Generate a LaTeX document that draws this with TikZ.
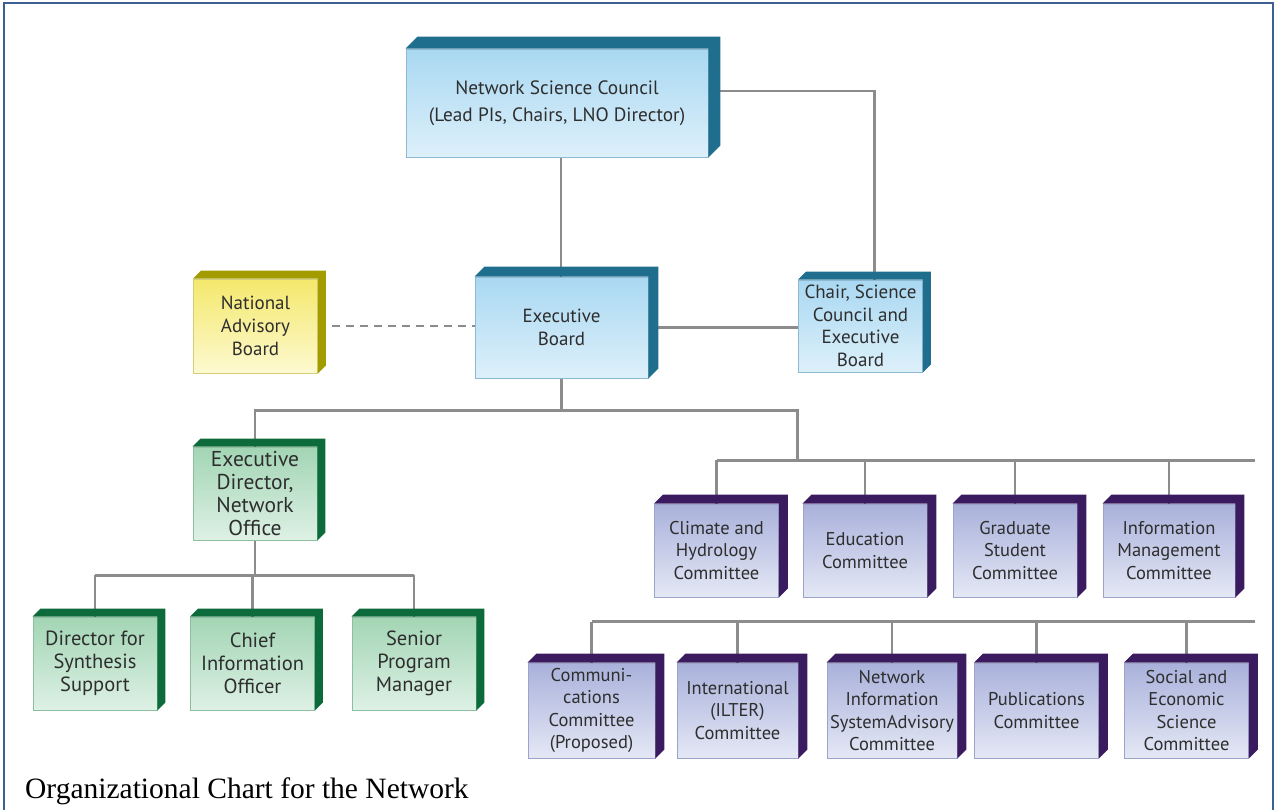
\documentclass[tikz,border=0pt]{standalone}
\usepackage{fontspec}
\setmainfont{PT Sans}
\newfontfamily\capfont{Liberation Serif}
\usetikzlibrary{backgrounds}
\definecolor{textgrey}{HTML}{2E2E2E}
\definecolor{linkgrey}{HTML}{8C8C8C}
\definecolor{frameblue}{HTML}{3D5F93}
\definecolor{bluetop}{HTML}{A9D8F2}
\definecolor{bluebot}{HTML}{DDF0FA}
\definecolor{blueline}{HTML}{8DB9D2}
\definecolor{bluedeep}{HTML}{1F6E8E}
\definecolor{yellowtop}{HTML}{F4E86C}
\definecolor{yellowbot}{HTML}{FDF9D0}
\definecolor{yellowline}{HTML}{D6CD78}
\definecolor{yellowdeep}{HTML}{A39C00}
\definecolor{greentop}{HTML}{A2D5B4}
\definecolor{greenbot}{HTML}{DEF1E5}
\definecolor{greenline}{HTML}{8DBE9E}
\definecolor{greendeep}{HTML}{0D6A3A}
\definecolor{purpletop}{HTML}{A9B1DB}
\definecolor{purplebot}{HTML}{E4E8F5}
\definecolor{purpleline}{HTML}{9DA4C9}
\definecolor{purpledeep}{HTML}{3B1B5F}
\tikzstyle{bx} = [rectangle, draw, line width=0.8pt, text centered, align=center,
    inner sep=1pt, text=textgrey, minimum height=93pt, minimum width=124pt,
    font=\fontsize{19}{23}\selectfont]
\tikzstyle{bluebx} = [bx, draw=blueline, top color=bluetop, bottom color=bluebot]
\tikzstyle{yellowbx} = [bx, draw=yellowline, top color=yellowtop, bottom color=yellowbot]
\tikzstyle{greenbx} = [bx, draw=greenline, top color=greentop, bottom color=greenbot,
    font=\fontsize{20.5}{23}\selectfont]
\tikzstyle{purplebx} = [bx, draw=purpleline, top color=purpletop, bottom color=purplebot,
    font=\fontsize{18.5}{22.5}\selectfont]
\tikzstyle{link} = [draw=linkgrey, line width=2.5pt]
\tikzstyle{dlink} = [link, dash pattern=on 8pt off 6pt]

\begin{document}
\begin{tikzpicture}[x=1pt,y=-1pt]
  \useasboundingbox (0,0) rectangle (1275,809);
  \draw[frameblue, line width=1.5pt] (4,812) |- (1273,3) -- (1273,812);

  % council and board
  \node[bluebx, minimum width=302pt, minimum height=108pt,
        font=\fontsize{19.3}{27}\selectfont] (nsc) at (557,103)
        {Network Science Council\\(Lead PIs, Chairs, LNO Director)};
  \node[bluebx, minimum width=173pt, minimum height=101pt] (eb) at (561.5,327.5)
        {Executive\\Board};
  \node[yellowbx, minimum height=94pt] (nab) at (255.5,326) {National\\Advisory\\Board};
  \node[bluebx, minimum height=92pt, font=\fontsize{19}{22.5}\selectfont]
        (chair) at (860.5,326) {Chair, Science\\Council and\\Executive\\Board};

  % network office
  \node[greenbx, font=\fontsize{21.5}{22.7}\selectfont] (ed) at (255,493.5)
        {Executive\\Director,\\Network\\Office};
  \node[greenbx] (dss) at (95,663.5) {Director for\\Synthesis\\Support};
  \node[greenbx] (cio) at (252.5,663.5) {Chief\\Information\\Officer};
  \node[greenbx] (spm) at (414,663.5) {Senior\\Program\\Manager};

  % committees
  \node[purplebx] (clim) at (716.5,550.5) {Climate and\\Hydrology\\Committee};
  \node[purplebx] (edu) at (865,550.5) {Education\\Committee};
  \node[purplebx] (grad) at (1015,550.5) {Graduate\\Student\\Committee};
  \node[purplebx, minimum width=132pt] (im) at (1169,550.5) {Information\\Management\\Committee};
  \node[purplebx, minimum height=95pt, minimum width=127pt] (comm) at (591.5,710.5)
        {Communi-\\cations\\Committee\\(Proposed)};
  \node[purplebx, minimum height=95pt, minimum width=121pt] (intl) at (737.5,710.5)
        {International\\(ILTER)\\Committee};
  \node[purplebx, minimum height=95pt, minimum width=130pt] (nis) at (892,710.5)
        {Network\\Information\\SystemAdvisory\\Committee};
  \node[purplebx, minimum height=95pt] (pub) at (1036.5,710.5) {Publications\\Committee};
  \node[purplebx, minimum height=95pt] (soc) at (1186.5,710.5)
        {Social and\\Economic\\Science\\Committee};

  % top and side faces
  \foreach \n/\d/\c in {nsc/12/bluedeep, eb/10/bluedeep, chair/8/bluedeep,
      nab/8/yellowdeep, ed/8/greendeep, dss/8/greendeep, cio/8/greendeep,
      spm/8/greendeep, clim/9/purpledeep, edu/9/purpledeep, grad/9/purpledeep,
      im/9/purpledeep, comm/9/purpledeep, intl/9/purpledeep, nis/9/purpledeep,
      pub/9/purpledeep, soc/9/purpledeep}
    \fill[\c] (\n.north west) -- ++(\d,-\d) -| ([shift={(\d,-\d)}]\n.south east)
      -- (\n.south east) -- (\n.north east) -- cycle;

  \coordinate (rowend) at (1255,0);
  \begin{scope}[on background layer]
    \draw[link] ([xshift=4pt]nsc.south) -- ([xshift=4pt]nsc.south |- eb.north);
    \draw[link] ([yshift=12pt]nsc.east) -| ([xshift=14pt]chair.north);
    \draw[dlink] (nab.east) -- (nab.east -| eb.west);
    \draw[link] (eb.east) -- (eb.east -| chair.west);
    \draw[link] (eb.south) -- ++(0,32) coordinate (split);
    \draw[link] (split) -| (ed.north);
    \draw[link] (split) -| ++(236,50) coordinate (combus);
    \draw[link] (clim.north |- combus) -- (combus -| rowend);
    \foreach \n in {clim,edu,grad,im}
      \draw[link] (\n.north |- combus) -- (\n.north);
    \path (comm.north) ++(0,-41) coordinate (subbus);
    \draw[link] (subbus) -- (subbus -| rowend);
    \foreach \n in {comm,intl,nis,pub,soc}
      \draw[link] (\n.north |- subbus) -- (\n.north);
    \draw[link] (ed.south) -- ++(0,35) coordinate (staffbus);
    \draw[link] (dss.north |- staffbus) -- (spm.north |- staffbus);
    \foreach \n in {dss,cio,spm}
      \draw[link] (\n.north |- staffbus) -- (\n.north);
  \end{scope}

  \node[anchor=base west, inner sep=0pt, font=\capfont\fontsize{29.5}{31}\selectfont]
        (cap) at (25,798) {Organizational Chart for the Network};
\end{tikzpicture}
\end{document}
